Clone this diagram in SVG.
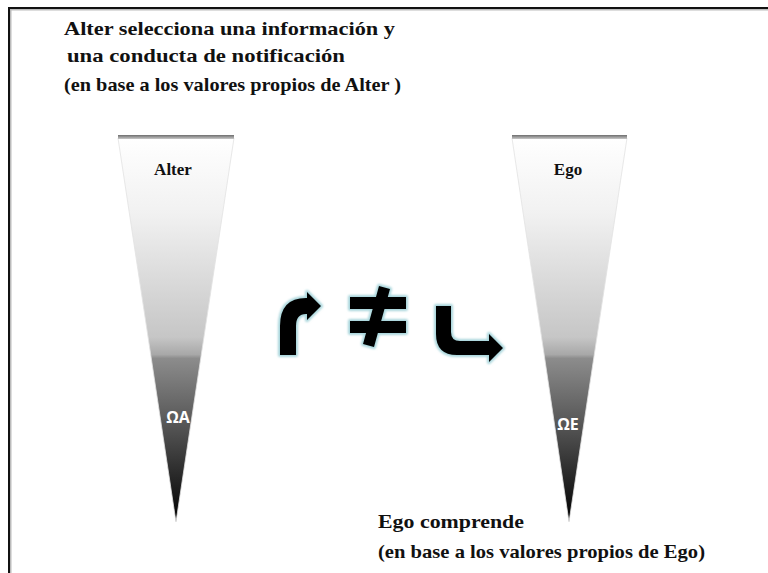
<svg xmlns="http://www.w3.org/2000/svg" width="768" height="573" viewBox="0 0 768 573">
<defs>
<linearGradient id="funnelA" gradientUnits="userSpaceOnUse" x1="0" y1="137" x2="0" y2="522">
<stop offset="0" stop-color="#ffffff"/>
<stop offset="0.2" stop-color="#f1f1f1"/>
<stop offset="0.52" stop-color="#c6c6c6"/>
<stop offset="0.565" stop-color="#a8a8a8"/>
<stop offset="0.575" stop-color="#8c8c8c"/>
<stop offset="0.75" stop-color="#555555"/>
<stop offset="1" stop-color="#000000"/>
</linearGradient>
<linearGradient id="bar" x1="0" y1="0" x2="0" y2="1">
<stop offset="0" stop-color="#6e6e6e"/>
<stop offset="1" stop-color="#c8c8c8"/>
</linearGradient>
<filter id="glow" x="-30%" y="-30%" width="160%" height="160%">
<feGaussianBlur stdDeviation="0.8"/>
</filter>
<style>
.serif{font-family:"Liberation Serif","DejaVu Serif",serif;font-weight:bold;fill:#111;}
.head{font-size:19.5px;}
.lbl{font-size:17px;text-anchor:middle;}
.omega{font-family:"Open Sans","Liberation Sans",sans-serif;font-weight:bold;font-size:16px;fill:#fff;text-anchor:middle;}
.sym{fill:#000;}
.halo{fill:none;stroke:#a9d6dc;stroke-width:4;stroke-linejoin:round;filter:url(#glow);}
</style>
</defs>
<rect width="768" height="573" fill="#ffffff"/>
<g id="frame">
<line x1="9" y1="9" x2="768" y2="9" stroke="#bbbbbb" stroke-width="3"/>
<line x1="10" y1="8" x2="10" y2="573" stroke="#bbbbbb" stroke-width="3"/>
<line x1="9" y1="8" x2="768" y2="8" stroke="#111" stroke-width="2"/>
<line x1="9" y1="7" x2="9" y2="573" stroke="#111" stroke-width="2"/>
</g>
<g id="top-text" class="serif head">
<text x="64" y="35" textLength="331" lengthAdjust="spacingAndGlyphs">Alter selecciona una información  y</text>
<text x="67" y="62" textLength="278" lengthAdjust="spacingAndGlyphs">una conducta de notificación</text>
<text x="64" y="91" textLength="337" lengthAdjust="spacingAndGlyphs">(en base a los valores propios de Alter )</text>
</g>
<g id="alter">
<path d="M118,138 L234,138 L176,522 Z" fill="url(#funnelA)" stroke="#e2e2e2" stroke-width="0.8"/>
<rect x="118" y="135" width="116" height="4" fill="url(#bar)"/>
<text class="serif lbl" x="173" y="175">Alter</text>
<text class="omega" x="178" y="423">ΩA</text>
</g>
<g id="ego">
<path d="M512,138 L627,138 L569,522 Z" fill="url(#funnelA)" stroke="#e2e2e2" stroke-width="0.8"/>
<rect x="512" y="135" width="115" height="4" fill="url(#bar)"/>
<text class="serif lbl" x="568" y="175">Ego</text>
<text class="omega" x="568" y="430">ΩE</text>
</g>
<g id="connectors">
<g id="arrow-up-right">
<path class="halo" d="M280,355 L280,326 Q280,298 306,298 L307,298 L307,292 L321,306 L307,320 L307,314 L306,314 Q296,314 296,326 L296,355 Z"/>
<path class="sym" d="M280,355 L280,326 Q280,298 306,298 L307,298 L307,292 L321,306 L307,320 L307,314 L306,314 Q296,314 296,326 L296,355 Z"/>
</g>
<g id="not-equal">
<path class="halo" d="M350,297 L406,297 L406,309 L350,309 Z M350,321 L406,321 L406,333 L350,333 Z M379,286 L390,289 L374,347 L363,344 Z"/>
<path class="sym" d="M350,297 L406,297 L406,309 L350,309 Z M350,321 L406,321 L406,333 L350,333 Z M379,286 L390,289 L374,347 L363,344 Z"/>
</g>
<g id="arrow-down-right">
<path class="halo" d="M436,306 L451,306 L451,332 Q451,341 460,341 L489,341 L489,334 L503,348 L489,362 L489,355 L457,355 Q436,355 436,334 Z"/>
<path class="sym" d="M436,306 L451,306 L451,332 Q451,341 460,341 L489,341 L489,334 L503,348 L489,362 L489,355 L457,355 Q436,355 436,334 Z"/>
</g>
</g>
<g id="bottom-text" class="serif head">
<text x="378" y="528" textLength="146" lengthAdjust="spacingAndGlyphs">Ego comprende</text>
<text x="378" y="558" textLength="327" lengthAdjust="spacingAndGlyphs">(en base a los valores propios de Ego)</text>
</g>
</svg>
